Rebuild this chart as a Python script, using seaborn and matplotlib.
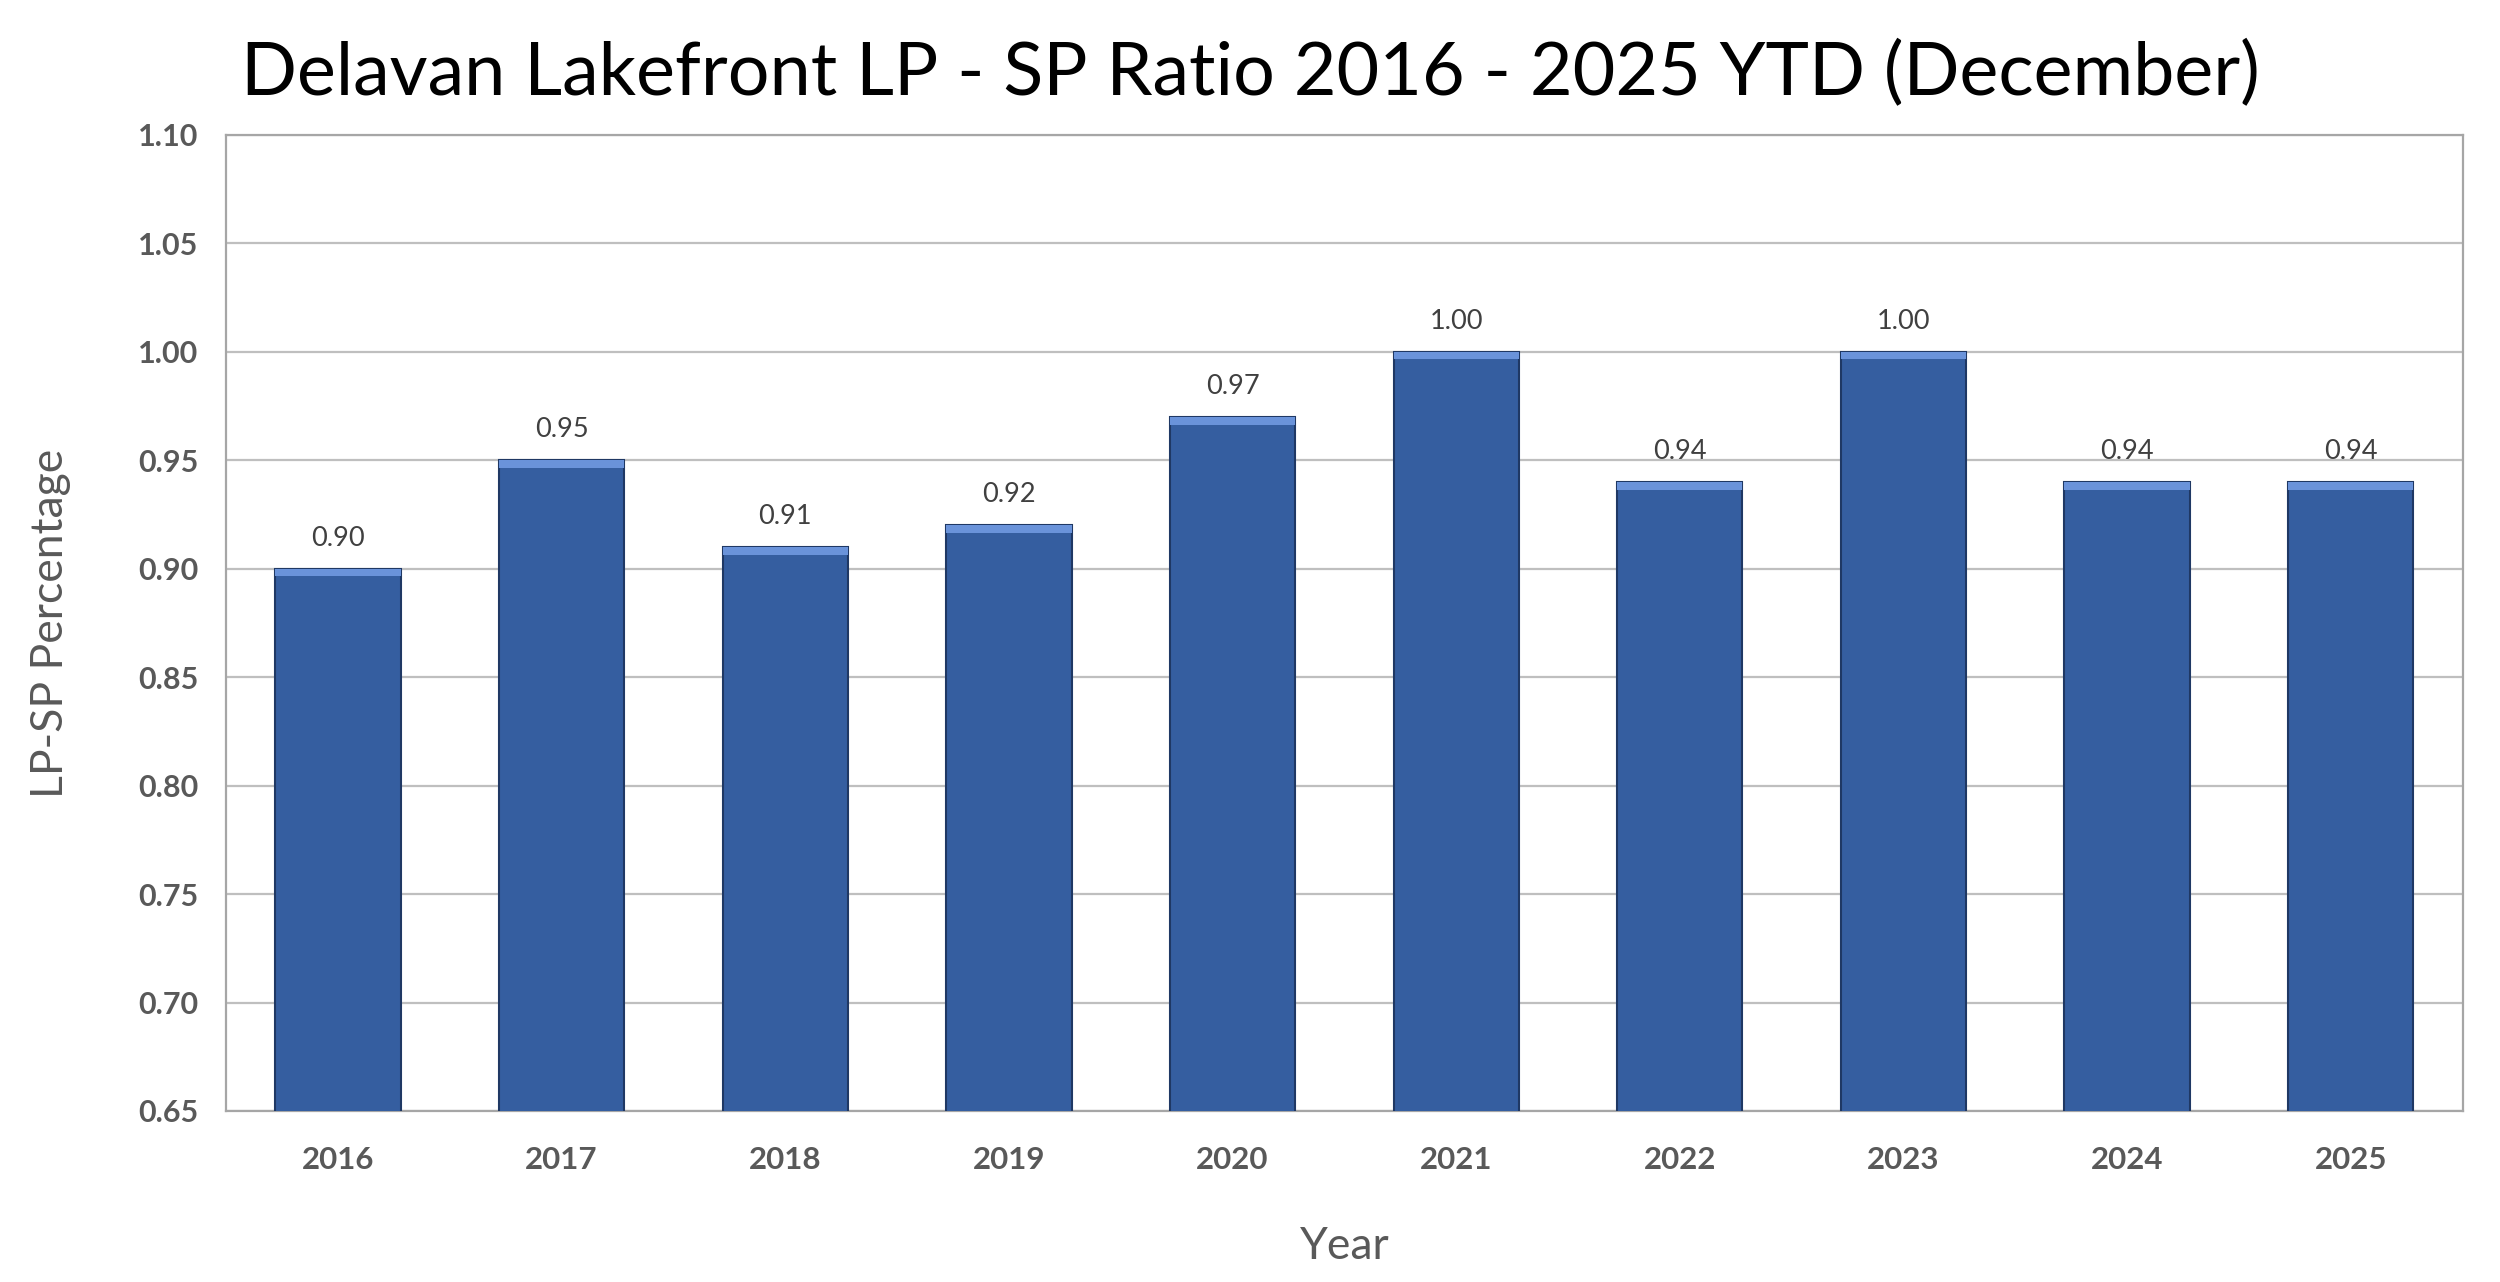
import numpy as np
import pandas as pd
import matplotlib
matplotlib.use("Agg")
import matplotlib.pyplot as plt
import seaborn as sns

years = ["2016", "2017", "2018", "2019", "2020", "2021", "2022", "2023", "2024", "2025"]
ratios = [0.90, 0.95, 0.91, 0.92, 0.97, 1.00, 0.94, 1.00, 0.94, 0.94]
y_ticks = [0.65, 0.70, 0.75, 0.80, 0.85, 0.90, 0.95, 1.00, 1.05, 1.10]

title = "Delavan Lakefront LP - SP Ratio 2016 - 2025 YTD (December)"

df = pd.DataFrame({"Year": years, "Ratio": ratios})

sns.set_style("white")
plt.rcParams['font.family'] = ['Lato', 'DejaVu Sans']

fig = plt.figure(figsize=(25, 12.82), dpi=100)
ax = fig.add_axes([0.0905, 0.1334, 0.8945, 0.7613])

sns.barplot(data=df, x="Year", y="Ratio", color="#355EA0", width=0.56,
            edgecolor="#1F3864", linewidth=1.5, saturation=1, ax=ax, zorder=3)

# lighter bevel strip along the bar tops
x = np.arange(len(years))
band = 0.0035
ax.bar(x, [band] * len(ratios), bottom=np.array(ratios) - band, width=0.56,
       color="#6A93DA", edgecolor="none", zorder=4)

ax.set_xlim(-0.5, len(years) - 0.5)
ax.set_ylim(0.65, 1.10)
ax.set_yticks(y_ticks)
ax.set_yticklabels([f"{t:.2f}" for t in y_ticks], fontsize=22, fontweight="bold", color="#595959")
ax.set_xticks(x)
ax.set_xticklabels(years, fontsize=22.5, fontweight="bold", color="#595959")
ax.tick_params(axis="y", length=0, pad=20)
ax.tick_params(axis="x", length=0, pad=25)

ax.grid(axis="y", color="#BFBFBF", linewidth=1.6, zorder=0)
for s in ax.spines.values():
    s.set_color("#A6A6A6")
    s.set_linewidth(1.6)

for xi, v in zip(x, ratios):
    ax.annotate(f"{v:.2f}", (xi, v), xytext=(0, 13), textcoords="offset points",
                ha="center", va="bottom", fontsize=19.5, color="#404040")

ax.set_xlabel("Year", fontsize=32, color="#595959", labelpad=38)
ax.set_ylabel("LP-SP Percentage", fontsize=32, color="#595959", labelpad=48)

fig.text(0.5, 0.942, title, ha="center", va="center", fontsize=53, color="black")

fig.savefig("out.png", dpi=100, facecolor="white")
